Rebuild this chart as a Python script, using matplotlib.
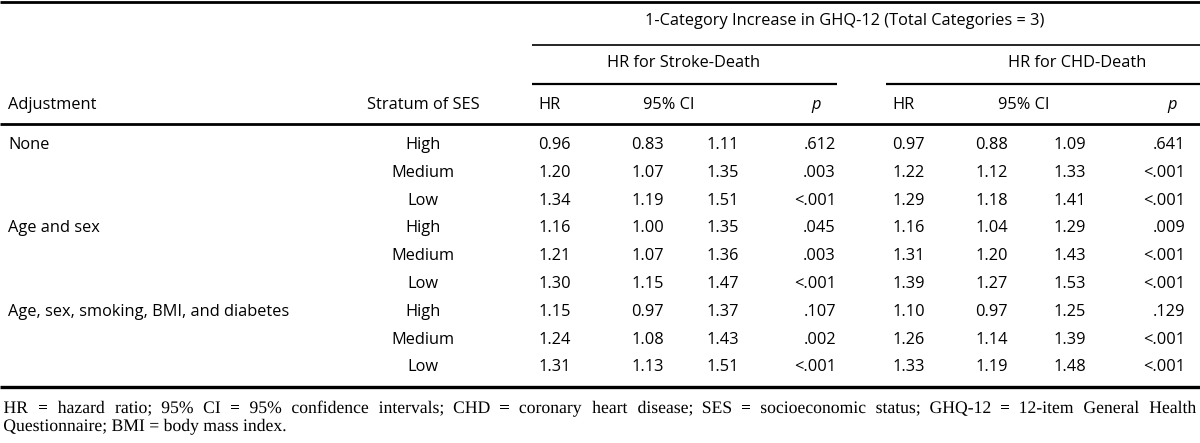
import matplotlib
matplotlib.use("Agg")
import matplotlib.pyplot as plt
from matplotlib.textpath import TextPath
from matplotlib.patches import PathPatch
from matplotlib.font_manager import FontProperties
from matplotlib.transforms import Affine2D

# ---------- table data ----------
adjustments = ["None", "Age and sex", "Age, sex, smoking, BMI, and diabetes"]
strata = ["High", "Medium", "Low"] * 3

stroke_hr = ["0.96", "1.20", "1.34", "1.16", "1.21", "1.30", "1.15", "1.24", "1.31"]
stroke_lo = ["0.83", "1.07", "1.19", "1.00", "1.07", "1.15", "0.97", "1.08", "1.13"]
stroke_hi = ["1.11", "1.35", "1.51", "1.35", "1.36", "1.47", "1.37", "1.43", "1.51"]
stroke_p = [".612", ".003", "<.001", ".045", ".003", "<.001", ".107", ".002", "<.001"]

chd_hr = ["0.97", "1.22", "1.29", "1.16", "1.31", "1.39", "1.10", "1.26", "1.33"]
chd_lo = ["0.88", "1.12", "1.18", "1.04", "1.20", "1.27", "0.97", "1.14", "1.19"]
chd_hi = ["1.09", "1.33", "1.41", "1.29", "1.43", "1.53", "1.25", "1.39", "1.48"]
chd_p = [".641", "<.001", "<.001", ".009", "<.001", "<.001", ".129", "<.001", "<.001"]

spanner = "1-Category Increase in GHQ-12 (Total Categories = 3)"
footnote_line1 = ("HR = hazard ratio; 95% CI = 95% confidence intervals; CHD = coronary heart disease; "
                  "SES = socioeconomic status; GHQ-12 = 12-item General Health")
footnote_line2 = "Questionnaire; BMI = body mass index."

# ---------- layout (pixel coordinates) ----------
W, H = 1200, 443
FONT = "Open Sans"
FS = 11.8

fig = plt.figure(figsize=(W / 100, H / 100), dpi=100)
ax = fig.add_axes([0, 0, 1, 1])
ax.set_xlim(0, W)
ax.set_ylim(H, 0)
ax.axis("off")


def txt(x, y, s, ha="left", **kw):
    ax.text(x, y, s, ha=ha, va="center", fontsize=FS, family=FONT, color="black", **kw)


def rule(x0, x1, y, lw):
    ax.plot([x0, x1], [y, y], color="black", lw=lw, solid_capstyle="butt")


# rules
rule(0, W, 1.5, 2.0)
rule(532, W, 45, 1.2)
rule(532, 837, 84, 1.6)
rule(886, W, 84, 1.6)
rule(0, W, 124, 2.0)
rule(0, W, 387, 2.4)

# header text
txt(845, 21, spanner, ha="center")
txt(684, 63, "HR for Stroke-Death", ha="center")
txt(1077, 63, "HR for CHD-Death", ha="center")
txt(8, 105, "Adjustment")
txt(423, 105, "Stratum of SES", ha="center")
txt(538, 105, "HR")
txt(669, 105, "95% CI", ha="center")
txt(816, 105, "p", ha="center", style="italic")
txt(892, 105, "HR")
txt(1024, 105, "95% CI", ha="center")
txt(1172, 105, "p", ha="center", style="italic")

# body
row_y0, row_h = 145, 27.8
for i, adj in enumerate(adjustments):
    txt(8, row_y0 + 3 * i * row_h, adj)

num_cols = [(571, stroke_hr), (664, stroke_lo), (739, stroke_hi), (836, stroke_p),
            (925, chd_hr), (1008, chd_lo), (1086, chd_hi), (1185, chd_p)]
for i, s in enumerate(strata):
    y = row_y0 + i * row_h
    txt(423, y, s, ha="center")
    for x, col in num_cols:
        txt(x, y, col[i], ha="right")

# ---------- footnote (text paths so the words share one baseline) ----------
fp = FontProperties(family="Liberation Serif")
size_px = 12.7 * 100 / 72


def put_path(s, x, baseline):
    p = TextPath((0, 0), s, size=size_px, prop=fp)
    ext = p.get_extents()
    tr = Affine2D().translate(-ext.x0, 0).scale(1, -1).translate(x, baseline)
    ax.add_patch(PathPatch(tr.transform_path(p), fc="black", ec="none", lw=0))


# first line justified to full width
words = footnote_line1.split(" ")
widths = [TextPath((0, 0), w, size=size_px, prop=fp).get_extents().width for w in words]
left, right = 4, 1196
gap = (right - left - sum(widths)) / (len(words) - 1)
x = left
for w, wd in zip(words, widths):
    put_path(w, x, 413)
    x += wd + gap
put_path(footnote_line2, left, 431)

fig.savefig("out.png", dpi=100)
